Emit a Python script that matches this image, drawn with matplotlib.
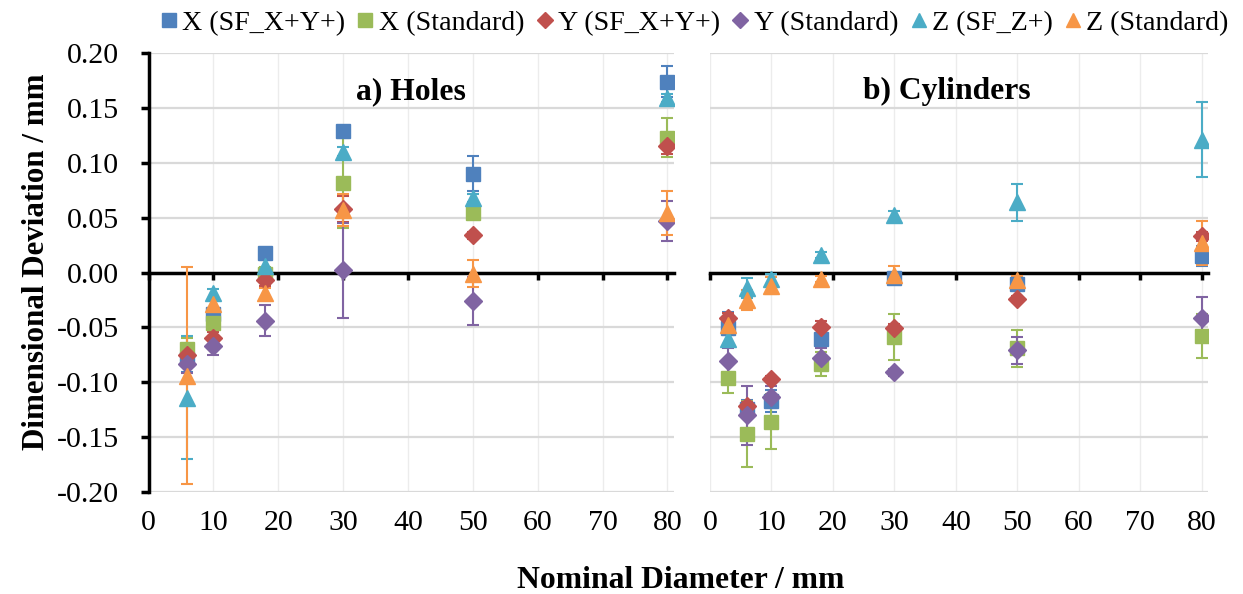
import matplotlib
matplotlib.use("Agg")
import matplotlib.pyplot as plt
from matplotlib.lines import Line2D

plt.rcParams['font.family'] = ['Liberation Serif', 'DejaVu Serif']

# --- data ---
holes_x = [6, 10, 18, 30, 50, 80]
holes_xsf = [-0.079, -0.038, 0.018, 0.129, 0.090, 0.174]
holes_xsf_err = [0.012, 0.005, 0.004, 0.004, 0.016, 0.014]
holes_xstd = [-0.070, -0.046, -0.001, 0.082, 0.054, 0.123]
holes_xstd_err = [0.010, 0.005, 0.006, 0.041, 0.004, 0.018]
holes_ysf = [-0.075, -0.060, -0.007, 0.058, 0.034, 0.115]
holes_ysf_err = [0.005, 0.006, 0.005, 0.012, 0.003, 0.007]
holes_ystd = [-0.083, -0.067, -0.044, 0.002, -0.026, 0.047]
holes_ystd_err = [0.009, 0.008, 0.014, 0.043, 0.022, 0.018]
holes_zsf = [-0.114, -0.019, 0.006, 0.110, 0.068, 0.159]
holes_zsf_err = [0.056, 0.004, 0.005, 0.004, 0.004, 0.004]
holes_zstd = [-0.094, -0.029, -0.019, 0.057, -0.001, 0.054]
holes_zstd_err = [0.099, 0.004, 0.005, 0.015, 0.012, 0.020]

cyl_x = [3, 6, 10, 18, 30, 50, 80]
cyl_xsf = [-0.051, -0.124, -0.117, -0.061, -0.005, -0.010, 0.015]
cyl_xsf_err = [0.015, 0.008, 0.010, 0.006, 0.004, 0.004, 0.009]
cyl_xstd = [-0.096, -0.147, -0.136, -0.083, -0.059, -0.069, -0.058]
cyl_xstd_err = [0.014, 0.030, 0.025, 0.011, 0.021, 0.017, 0.020]
cyl_ysf = [-0.041, -0.122, -0.097, -0.050, -0.051, -0.024, 0.033]
cyl_ysf_err = [0.004, 0.004, 0.003, 0.006, 0.004, 0.003, 0.004]
cyl_ystd = [-0.081, -0.130, -0.113, -0.078, -0.091, -0.071, -0.041]
cyl_ystd_err = [0.012, 0.027, 0.010, 0.009, 0.003, 0.012, 0.019]
cyl_zsf = [-0.061, -0.014, -0.006, 0.016, 0.052, 0.064, 0.121]
cyl_zsf_err = [0.004, 0.009, 0.005, 0.003, 0.004, 0.017, 0.034]
cyl_zstd = [-0.048, -0.025, -0.012, -0.006, -0.002, -0.007, 0.027]
cyl_zstd_err = [0.004, 0.009, 0.008, 0.003, 0.008, 0.004, 0.020]

labels = ['X (SF_X+Y+)', 'X (Standard)', 'Y (SF_X+Y+)', 'Y (Standard)', 'Z (SF_Z+)', 'Z (Standard)']
colors = ['#4f81bd', '#9bbb59', '#c0504d', '#8064a2', '#4bacc6', '#f79646']
markers = ['s', 's', 'D', 'D', '^', '^']
msizes = [10.5, 10.5, 9.5, 9.5, 11, 11]

holes = [(holes_xsf, holes_xsf_err), (holes_xstd, holes_xstd_err),
         (holes_ysf, holes_ysf_err), (holes_ystd, holes_ystd_err),
         (holes_zsf, holes_zsf_err), (holes_zstd, holes_zstd_err)]
cyls = [(cyl_xsf, cyl_xsf_err), (cyl_xstd, cyl_xstd_err),
        (cyl_ysf, cyl_ysf_err), (cyl_ystd, cyl_ystd_err),
        (cyl_zsf, cyl_zsf_err), (cyl_zstd, cyl_zstd_err)]

fig = plt.figure(figsize=(12.43, 5.94), dpi=100)
ax1 = fig.add_axes([0.1195, 0.1717, 0.4227, 0.739])
ax2 = fig.add_axes([0.5712, 0.1717, 0.4006, 0.739])

yticks = [-0.20, -0.15, -0.10, -0.05, 0.00, 0.05, 0.10, 0.15, 0.20]
xticks = list(range(0, 81, 10))

for ax, xs, series, title, tx in [(ax1, holes_x, holes, 'a) Holes', 0.5),
                                  (ax2, cyl_x, cyls, 'b) Cylinders', 0.476)]:
    for (vals, errs), c, m, ms in zip(series, colors, markers, msizes):
        ax.errorbar(xs, vals, yerr=errs, fmt=m, color=c, ecolor=c, ms=ms,
                    mec=c, elinewidth=1.5, capsize=4.3, capthick=1.5, zorder=3)
    ax.set_xlim(0, 81)
    ax.set_ylim(-0.2, 0.2)
    ax.set_xticks(xticks)
    ax.set_yticks(yticks)
    ax.set_yticklabels([f'{v:.2f}' for v in yticks])
    ax.yaxis.grid(True, color='#d9d9d9', lw=1.6)
    ax.xaxis.grid(True, color='#ececec', lw=1.0)
    ax.set_axisbelow(True)
    for s in ['top', 'right']:
        ax.spines[s].set_visible(False)
    # zero line as the x axis
    ax.spines['bottom'].set_position(('data', 0))
    ax.spines['bottom'].set_linewidth(2.5)
    ax.spines['bottom'].set_zorder(2.5)
    ax.tick_params(axis='x', direction='out', length=5, width=2.5,
                   labelbottom=False)
    # tick labels below the plot area
    sec = ax.secondary_xaxis('bottom')
    sec.set_xticks(xticks)
    sec.set_xticklabels([str(t) for t in xticks])
    sec.tick_params(length=0, labelsize=21.5, pad=13)
    sec.spines['bottom'].set_visible(False)
    ax.text(tx, 0.912, title, transform=ax.transAxes, ha='center', va='center',
            fontsize=22.8, fontweight='bold')

ax1.spines['left'].set_linewidth(2.5)
ax1.tick_params(axis='y', direction='out', length=6, width=2.5, labelsize=21.5, pad=15)
ax2.spines['left'].set_visible(False)
ax2.tick_params(axis='y', length=0, labelleft=False)

fig.text(37 / 1243, 1 - 262 / 594, 'Dimensional Deviation / mm', rotation=90,
         ha='center', va='center', fontsize=22.3, fontweight='bold')
fig.text(681 / 1243, 1 - 580 / 594, 'Nominal Diameter / mm', ha='center', va='center',
         fontsize=22.8, fontweight='bold')

leg_ms = [10, 10, 8.5, 8.5, 10, 10]
handles = [Line2D([], [], ls='none', marker=m, color=c, ms=ms)
           for c, m, ms in zip(colors, markers, leg_ms)]
fig.legend(handles, labels, loc='upper center', bbox_to_anchor=(0.559, 1.025),
           ncol=6, frameon=False, fontsize=20.2, handletextpad=0.2,
           columnspacing=0.45, handlelength=0.55)

fig.savefig('out.png', dpi=100)
